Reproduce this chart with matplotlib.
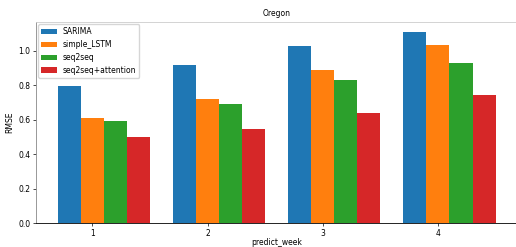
import numpy as np
import matplotlib
matplotlib.use("Agg")
import matplotlib.pyplot as plt

weeks = [1, 2, 3, 4]
sarima = [0.797, 0.917, 1.029, 1.112]
simple_lstm = [0.610, 0.721, 0.891, 1.035]
seq2seq = [0.595, 0.692, 0.833, 0.932]
seq2seq_att = [0.498, 0.545, 0.638, 0.744]
labels = ['SARIMA', 'simple_LSTM', 'seq2seq', 'seq2seq+attention']

fs = 5.5
plt.rcParams['font.size'] = fs

fig = plt.figure(figsize=(5.16, 2.47), dpi=100)
# the reference is cropped on the right, so the axes run past the figure edge
ax = fig.add_axes([0.0698, 0.097, 0.933, 0.814])

x = np.array(weeks)
w = 0.2
series = [sarima, simple_lstm, seq2seq, seq2seq_att]
for i, (vals, lab) in enumerate(zip(series, labels)):
	ax.bar(x + (i - 1)*w, vals, w, label=lab)

ax.set_xticks(x)
ax.set_yticks(np.arange(0, 1.01, 0.2))
ax.set_ylim(0, 1.168)
ax.set_xlim(0.51, 4.69)
ax.set_title('Oregon', fontsize=fs, pad=4)
ax.set_xlabel('predict_week', fontsize=fs, labelpad=0)
ax.set_ylabel('RMSE', fontsize=fs, labelpad=3)
ax.tick_params(length=2, width=0.5, pad=2, labelsize=fs)
for s in ax.spines.values():
	s.set_linewidth(0.6)
ax.spines['top'].set_color('#cccccc')
ax.spines['left'].set_color('#888888')
ax.spines['bottom'].set_color('black')
ax.spines['right'].set_visible(False)
ax.legend(loc='upper left', fontsize=fs, borderaxespad=0.3)

fig.savefig('out.png', dpi=100)
